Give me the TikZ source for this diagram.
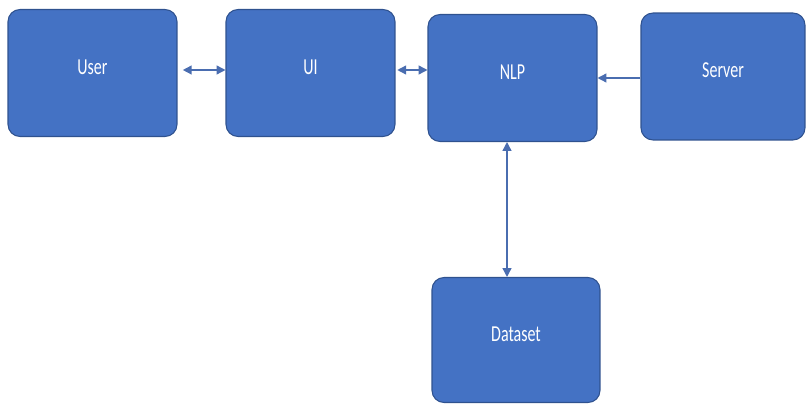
\documentclass[tikz,border=0pt]{standalone}
\usepackage{fontspec}
\setmainfont{Carlito}
\newfontfamily\boxfont[FakeStretch=0.7]{Carlito}
\usetikzlibrary{arrows.meta}
\definecolor{boxblue}{HTML}{4472C4}
\definecolor{boxedge}{HTML}{2F528F}
\definecolor{linkblue}{HTML}{4A6DB0}
\begin{document}
\begin{tikzpicture}[x=0.02cm,y=-0.02cm,
	block/.style={rectangle,rounded corners=0.24cm,draw=boxedge,line width=0.6pt,fill=boxblue,
		text=white,font=\boxfont\fontsize{13}{15}\selectfont,minimum width=3.38cm,minimum height=2.54cm,
		text height=1.5ex,text depth=0.2cm},
	link/.style={draw=linkblue,line width=0.8pt,{Triangle[length=5pt,width=5pt]}-{Triangle[length=5pt,width=5pt]}},
	linkone/.style={draw=linkblue,line width=0.8pt,-{Triangle[length=5pt,width=5pt]}}]
	\useasboundingbox (0,0) rectangle (808,405);
	\node[block] (user) at (92.5,73) {User};
	\node[block] (ui) at (310.5,73) {UI};
	\node[block] (nlp) at (512.5,78) {NLP};
	\node[block,minimum width=3.28cm] (server) at (723,76.5) {Server};
	\node[block,minimum width=3.36cm,minimum height=2.5cm] (data) at (516,340) {Dataset};
	\draw[link,shorten <=3pt] ([yshift=0.06cm]user.east) -- ([yshift=0.06cm]ui.west);
	\draw[link,shorten <=1pt] ([yshift=0.06cm]ui.east) -- ([yshift=0.06cm]ui.east -| nlp.west);
	\draw[linkone] (server.west |- nlp.east) -- (nlp.east);
	\draw[link] ([xshift=-0.11cm]nlp.south) -- ([xshift=-0.11cm]nlp.south |- data.north);
\end{tikzpicture}
\end{document}
